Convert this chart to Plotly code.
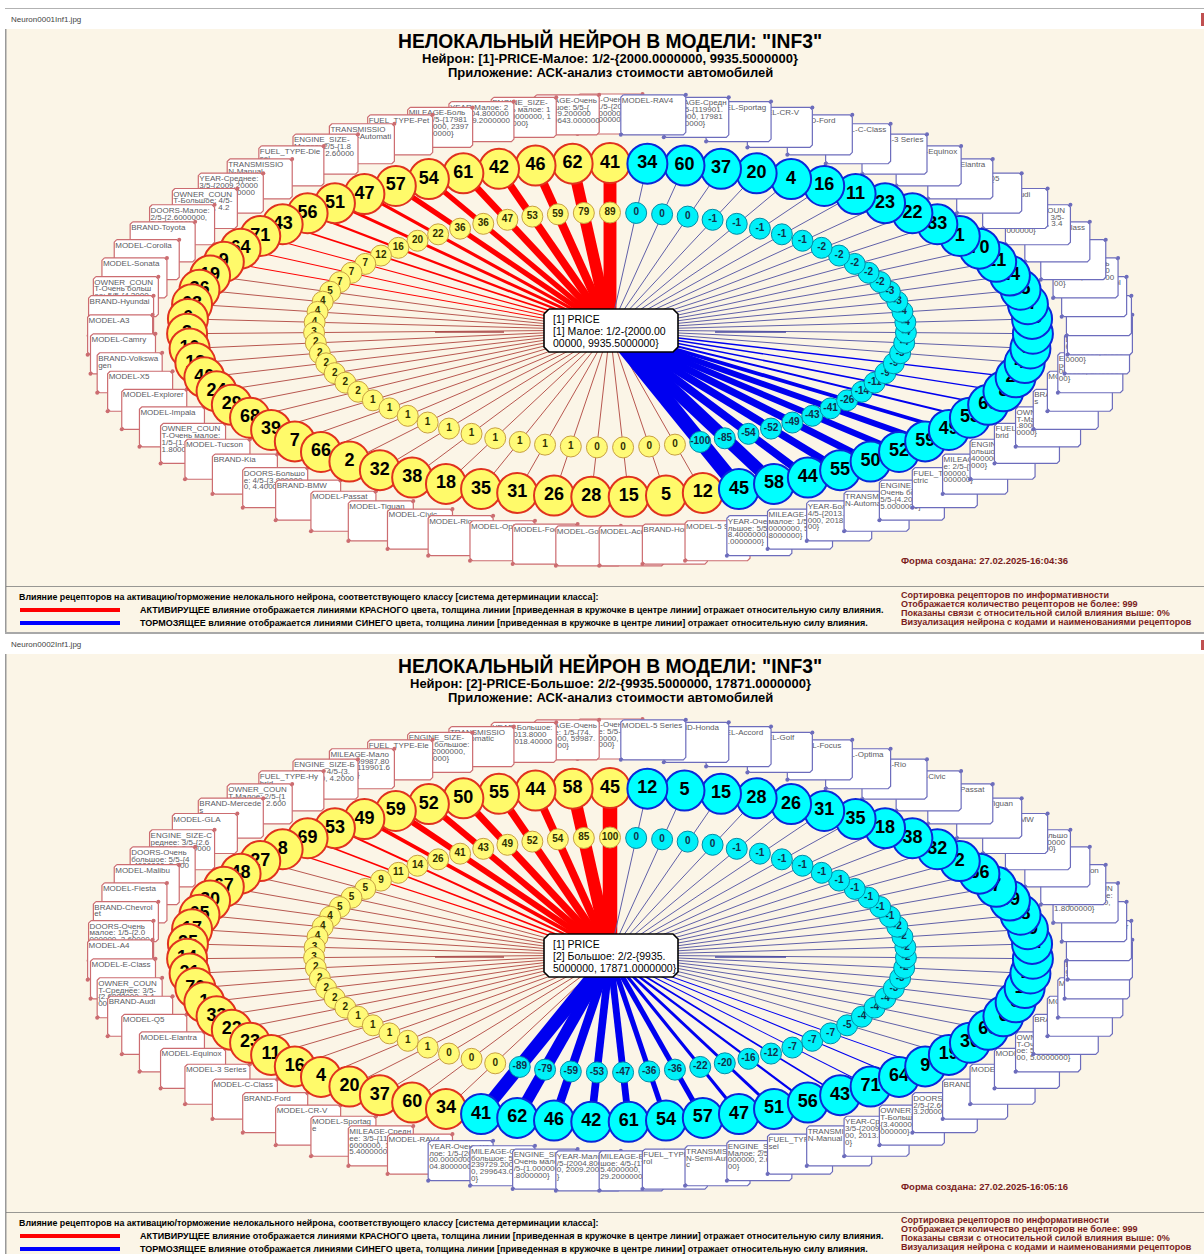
import math
import plotly.graph_objects as go

# ---- data ----
RECEPTOR_IDS = [41,62,46,42,61,54,57,47,51,56,43,71,64,9,19,36,63,6,3,10,13,40,24,
                29,68,39,7,66,2,32,38,18,35,31,26,28,15,5,12,
                45,58,44,55,50,52,59,49,53,69,8,27,48,67,30,65,17,25,
                14,21,70,1,33,22,23,11,16,4,20,37,60,34]
RECEPTOR_LABELS = [
 "YEAR-Очень ма\nлое: 1/5-{20\n00.0000000, 20\n04.8000000}",
 "MILEAGE-Очень\nбольшое: 5/5-{\n239729.200000\n0, 299643.000000\n0}",
 "ENGINE_SIZE-\nОчень малое: 1\n/5-{1.0000000, 1\n.8000000}",
 "YEAR-Малое: 2\n/5-{2004.800000\n0, 2009.2000000\n}",
 "MILEAGE-Боль\nшое: 4/5-{17981\n5.4000000, 2397\n29.2000000}",
 "FUEL_TYPE-Pet\nrol",
 "TRANSMISSIO\nN-Semi-Automati\nc",
 "ENGINE_SIZE-\nМалое: 2/5-{1.8\n000000, 2.60000\n00}",
 "FUEL_TYPE-Die\nsel",
 "TRANSMISSIO\nN-Manual",
 "YEAR-Среднее:\n3/5-{2009.20000\n00, 2013.80000\n0}",
 "OWNER_COUN\nT-Большое: 4/5-\n{3.4000000, 4.2\n000000}",
 "DOORS-Малое:\n2/5-{2.6000000,\n3.2000000}",
 "BRAND-Toyota","MODEL-Corolla","MODEL-Sonata",
 "OWNER_COUN\nT-Очень больш\nое: 5/5-{4.2000\n00, 5.0000000}",
 "BRAND-Hyundai","MODEL-A3","MODEL-Camry","BRAND-Volkswa\ngen","MODEL-X5","MODEL-Explorer",
 "MODEL-Impala",
 "OWNER_COUN\nT-Очень малое:\n1/5-{1.0000000,\n1.8000000}",
 "MODEL-Tucson","BRAND-Kia",
 "DOORS-Большо\nе: 4/5-{3.800000\n0, 4.4000000}",
 "BRAND-BMW","MODEL-Passat","MODEL-Tiguan","MODEL-Civic","MODEL-Rio","MODEL-Optima",
 "MODEL-Focus","MODEL-Golf","MODEL-Accord","BRAND-Honda","MODEL-5 Series",
 "YEAR-Очень бо\nльшое: 5/5-{201\n8.4000000, 2023\n.0000000}",
 "MILEAGE-Очень\nмалое: 1/5-{74.\n0000000, 59987.\n8000000}",
 "YEAR-Большое:\n4/5-{2013.8000\n000, 2018.40000\n00}",
 "TRANSMISSIO\nN-Automatic",
 "ENGINE_SIZE-\nОчень большое:\n5/5-{4.2000000,\n5.0000000}",
 "FUEL_TYPE-Ele\nctric",
 "MILEAGE-Мало\nе: 2/5-{59987.80\n00000, 119901.6\n000000}",
 "ENGINE_SIZE-Б\nольшое: 4/5-{3.\n4000000, 4.2000\n000}",
 "FUEL_TYPE-Hy\nbrid",
 "OWNER_COUN\nT-Малое: 2/5-{1\n.8000000, 2.600\n0000}",
 "BRAND-Mercede\ns","MODEL-GLA",
 "ENGINE_SIZE-C\nреднее: 3/5-{2.6\n000000, 3.40000\n00}",
 "DOORS-Очень\nбольшое: 5/5-{4\n.4000000, 5.000\n0000}",
 "MODEL-Malibu","MODEL-Fiesta","BRAND-Chevrol\net",
 "DOORS-Очень\nмалое: 1/5-{2.0\n000000, 2.60000\n00}",
 "MODEL-A4","MODEL-E-Class",
 "OWNER_COUN\nT-Среднее: 3/5-\n{2.6000000, 3.4\n000000}",
 "BRAND-Audi","MODEL-Q5","MODEL-Elantra","MODEL-Equinox","MODEL-3 Series","MODEL-C-Class",
 "BRAND-Ford","MODEL-CR-V","MODEL-Sportag\ne",
 "MILEAGE-Средн\nее: 3/5-{119901.\n6000000, 17981\n5.4000000}",
 "MODEL-RAV4",
]
# panel 2 shows these two boxes the other way round
PANEL2_SWAPPED_IDS = (32, 38)
PANEL2_START = 39

# inner-ring strengths, anticlockwise from the top
P1_STRENGTH = [89,79,59,53,47,36,36,22,20,16,12,7,7,7,5,4,4,4,3,2,2,2,2,2,2,
               1,1,1,1,1,1,1,1,1,1,0,0,0,0,
               -100,-85,-54,-52,-49,-43,-41,-26,-14,-11,-9,-9,-5,-4,-4,-4,-4,
               -3,-3,-2,-2,-2,-2,-2,-1,-1,-1,-1,-1,0,0,0]
P2_STRENGTH = [100,85,54,52,49,43,41,26,14,11,9,5,5,5,4,4,4,3,3,2,2,2,2,2,1,1,1,1,1,0,0,0,
               -89,-79,-59,-53,-47,-36,-36,-22,-20,-16,-12,-7,-7,-7,-5,-4,-4,-4,-3,-3,-2,-2,-2,
               -2,-2,-1,-1,-1,-1,-1,-1,-1,-1,-1,-1,0,0,0,0]

TITLE = 'НЕЛОКАЛЬНЫЙ НЕЙРОН В МОДЕЛИ: "INF3"'
APP = "Приложение: АСК-анализ стоимости автомобилей"
P1_SUB = "Нейрон: [1]-PRICE-Малое: 1/2-{2000.0000000, 9935.5000000}"
P2_SUB = "Нейрон: [2]-PRICE-Большое: 2/2-{9935.5000000, 17871.0000000}"
P1_CENTER = ["[1] PRICE", "[1] Малое: 1/2-{2000.00", "00000, 9935.5000000}"]
P2_CENTER = ["[1] PRICE", "[2] Большое: 2/2-{9935.", "5000000, 17871.0000000}"]
P1_STAMP = "Форма создана: 27.02.2025-16:04:36"
P2_STAMP = "Форма создана: 27.02.2025-16:05:16"
P1_FILE = "Neuron0001Inf1.jpg"
P2_FILE = "Neuron0002Inf1.jpg"
LEGEND_HEAD = "Влияние рецепторов на активацию/торможение нелокального нейрона, соответствующего классу [система детерминации класса]:"
LEGEND_RED = "АКТИВИРУЩЕЕ влияние отображается линиями КРАСНОГО цвета, толщина линии [приведенная в кружочке в центре линии] отражает относительную силу влияния."
LEGEND_BLUE = "ТОРМОЗЯЩЕЕ влияние отображается линиями СИНЕГО цвета, толщина линии [приведенная в кружочке в центре линии] отражает относительную силу влияния."
SETTINGS = ["Сортировка рецепторов по информативности",
            "Отображается количество рецепторов не более: 999",
            "Показаны связи с относительной силой влияния выше: 0%",
            "Визуализация нейрона с кодами и наименованиями рецепторов"]

# ---- style / layout ----
W, H = 1204, 1254
CX = 610
OUTER = (423, 167); INNER = (296, 117.5); BOXES = (490, 216)
BOX_W, BOX_H = 65, 40
BG = "#FBF5E7"
ARIAL = "Liberation Sans"

fig = go.Figure()
shapes, notes = [], []

def note(x, y, text, size, color="#000", family=ARIAL, anchor="left", bold=True):
    notes.append(dict(x=x, y=y, text=f"<b>{text}</b>" if bold else text, showarrow=False,
                      xanchor=anchor, yanchor="middle", xref="x", yref="y",
                      font=dict(size=size, color=color, family=family)))

def rect(x0, y0, x1, y1, fill, line=None, lw=0):
    shapes.append(dict(type="rect", x0=x0, y0=y0, x1=x1, y1=y1, layer="below",
                       fillcolor=fill, line=dict(color=line or fill, width=lw)))

def add_box_outline(x0, y0, x1, y1, r, fill, color, width, dots=True):
    xs = [x0+r, x1-r, x1, x1, x1-r, x0+r, x0, x0, x0+r]
    ys = [y0, y0, y0+r, y1-r, y1, y1, y1-r, y0+r, y0]
    fig.add_trace(go.Scatter(x=xs, y=ys, mode="lines", fill="toself", fillcolor=fill,
                             line=dict(color=color, width=width), hoverinfo="skip", showlegend=False))
    if dots:
        fig.add_trace(go.Scatter(x=[x0, x1], y=[y1, y0], mode="markers",
                                 marker=dict(size=4, color=color), hoverinfo="skip", showlegend=False))

def panel(dy, ids, labels, strengths, sub, center, stamp, fname, leg_dy, n_pos):
    cy = 330 + dy
    n = len(ids)
    step = 2 * math.pi / n
    ang = [math.pi / 2 + i * step for i in range(n)]
    pos = lambda e, t: (CX + e[0] * math.cos(t), cy - e[1] * math.sin(t))
    is_neg = [i >= n_pos for i in range(n)]

    # receptor boxes
    for t, lab, neg in zip(ang, labels, is_neg):
        col = "#6C6CBC" if neg else "#CC6C70"
        bx, by = pos(BOXES, t)
        x0, x1, y0, y1 = bx - BOX_W/2, bx + BOX_W/2, by - BOX_H/2, by + BOX_H/2
        add_box_outline(x0, y0, x1, y1, 2.5, "#FFFFFF", col, 1.2)
        lines = lab.split("\n")
        fig.add_trace(go.Scatter(x=[x0 + 1] * len(lines), y=[y0 + 6 + k * 6.8 for k in range(len(lines))],
                                 mode="text", text=lines, textposition="middle right",
                                 textfont=dict(size=8, family=ARIAL, color="#5A5A62"),
                                 hoverinfo="skip", showlegend=False))
    # rays
    for t, v, neg in zip(ang, strengths, is_neg):
        mag = abs(v)
        strong = mag >= 7
        col = ("#0000F0" if strong else "#6060A8") if neg else ("#FF0000" if strong else "#B85850")
        ox, oy = pos(OUTER, t)
        fig.add_trace(go.Scatter(x=[CX, ox], y=[cy, oy], mode="lines",
                                 line=dict(color=col, width=max(1, mag * 0.145)),
                                 hoverinfo="skip", showlegend=False))
    # short horizontal marks either side of the centre box
    for x0, x1, c in [(435, 504, "#A84848"), (715, 786, "#4848A0")]:
        fig.add_trace(go.Scatter(x=[x0, x1], y=[cy + 2, cy + 2], mode="lines", line=dict(color=c, width=1.5),
                                 hoverinfo="skip", showlegend=False))
    # outer ring: receptor codes
    for t, rid, neg in zip(ang, ids, is_neg):
        ox, oy = pos(OUTER, t)
        fig.add_trace(go.Scatter(x=[ox], y=[oy], mode="markers+text", text=[str(rid)], textposition="middle center",
                                 textfont=dict(size=18, family=ARIAL, color="#000", weight="bold"),
                                 marker=dict(size=40, color="#00FFFF" if neg else "#FFFA6A",
                                             line=dict(color="#0A28D8" if neg else "#E0321E", width=2)),
                                 hoverinfo="skip", showlegend=False))
    # inner ring: strengths
    for t, v, neg in zip(ang, strengths, is_neg):
        ix, iy = pos(INNER, t)
        fig.add_trace(go.Scatter(x=[ix], y=[iy], mode="markers+text", text=[str(v)], textposition="middle center",
                                 textfont=dict(size=10, family=ARIAL, color="#10304A" if neg else "#303000", weight="bold"),
                                 marker=dict(size=21, color="#00F0F8" if neg else "#FFFA78",
                                             line=dict(color="#008CA8" if neg else "#C8A040", width=1)),
                                 hoverinfo="skip", showlegend=False))
    # centre box
    add_box_outline(544, cy - 21, 678, cy + 22, 5, "#FFFFFF", "#000000", 1.6, dots=False)
    for k, s in enumerate(center):
        note(551, cy - 11 + k * 12, s, 10.5, bold=False)
    # headings
    note(CX, 40 + dy, TITLE, 19.3, anchor="center")
    note(CX, 58 + dy, sub, 13, anchor="center")
    note(CX, 72 + dy, APP, 13, anchor="center")
    note(899, 560 + dy + (1 if dy else 0), stamp, 9.5, color="#7A1C1C")
    note(9, 19 + dy, fname, 8, color="#444", bold=False)
    # legend
    note(17, 597 + leg_dy, LEGEND_HEAD, 8.85)
    note(138, 610 + leg_dy, LEGEND_RED, 9)
    note(138, 623 + leg_dy, LEGEND_BLUE, 9)
    for y, c in [(610, "#FF0000"), (623, "#0000FF")]:
        fig.add_trace(go.Scatter(x=[20, 120], y=[y + leg_dy] * 2, mode="lines", line=dict(color=c, width=4),
                                 hoverinfo="skip", showlegend=False))
    for k, s in enumerate(SETTINGS):
        note(899, 595 + leg_dy + (-1 if leg_dy else 0) + k * 9, s, 9.05, color="#7A1C1C")

# page chrome
rect(6, 29, W, 632, BG)
rect(6, 654, W, H, BG)
rect(5, 8, W, 8.7, "#999999")
rect(5, 29, 6.5, 633, "#999999")
rect(5, 654, 6.5, H, "#999999")
rect(6, 586, W, 586.8, "#777777")
rect(6, 1212, W, 1212.8, "#777777")
rect(5, 632, W, 634, "#A8A8A8")
rect(1201, 13, W, 26, "#C05050")
rect(1201, 640, W, 650, "#C05050")

panel(0, RECEPTOR_IDS, RECEPTOR_LABELS, P1_STRENGTH, P1_SUB, P1_CENTER, P1_STAMP, P1_FILE, 0, PANEL2_START)

ids2 = RECEPTOR_IDS[PANEL2_START:] + RECEPTOR_IDS[:PANEL2_START]
labs2 = RECEPTOR_LABELS[PANEL2_START:] + RECEPTOR_LABELS[:PANEL2_START]
a, b = ids2.index(PANEL2_SWAPPED_IDS[0]), ids2.index(PANEL2_SWAPPED_IDS[1])
labs2[a], labs2[b] = labs2[b], labs2[a]
panel(625, ids2, labs2, P2_STRENGTH, P2_SUB, P2_CENTER, P2_STAMP, P2_FILE, 626, len(RECEPTOR_IDS) - PANEL2_START)

fig.update_layout(width=W, height=H, margin=dict(l=0, r=0, t=0, b=0),
                  paper_bgcolor="#FFFFFF", plot_bgcolor="#FFFFFF", showlegend=False,
                  xaxis=dict(range=[0, W], visible=False, fixedrange=True),
                  yaxis=dict(range=[H, 0], visible=False, fixedrange=True),
                  shapes=shapes, annotations=notes, hovermode=False)
fig.write_html("out.html", config=dict(displayModeBar=False),
               post_script="document.body.style.margin='0';document.body.style.overflow='hidden';")
